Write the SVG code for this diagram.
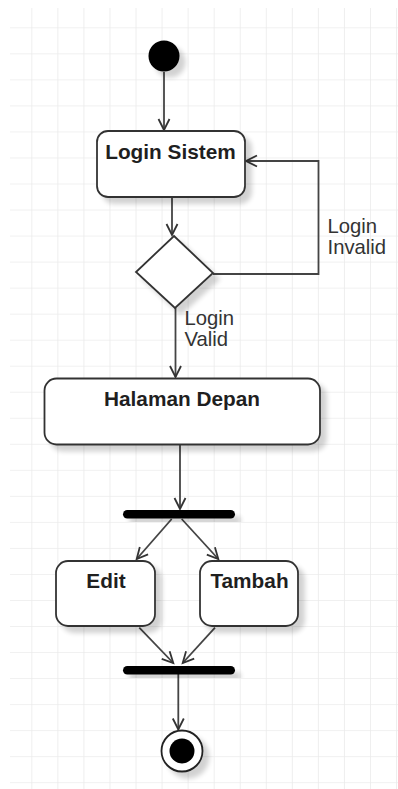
<svg xmlns="http://www.w3.org/2000/svg" width="398" height="789" viewBox="0 0 398 789">
  <defs>
    <pattern id="grid" patternUnits="userSpaceOnUse" x="6.25" y="2.27" width="26.05" height="26.03">
      <path d="M26.05 0 V26.03 M0 26.03 H26.05" stroke="#ebebeb" stroke-width="1.6" fill="none"/>
    </pattern>
    <filter id="shadow" x="-30%" y="-30%" width="170%" height="170%">
      <feGaussianBlur in="SourceAlpha" stdDeviation="2.5"/>
      <feOffset dx="6" dy="6" result="b"/>
      <feComponentTransfer><feFuncA type="linear" slope="0.18"/></feComponentTransfer>
      <feMerge><feMergeNode/><feMergeNode in="SourceGraphic"/></feMerge>
    </filter>
    <marker id="open" markerUnits="userSpaceOnUse" markerWidth="16" markerHeight="16" viewBox="-13 -8 16 16" refX="0" refY="0" orient="auto">
      <path d="M-11,-5.5 L0,0 L-11,5.5" fill="none" stroke="#333" stroke-width="1.8"/>
    </marker>
    <style>
      .box { fill: #ffffff; stroke: #333333; stroke-width: 1.8; }
      .bar { fill: #000000; }
      .title { font-family: "Liberation Sans", Arial, sans-serif; font-weight: bold; font-size: 20.8px; fill: #1f1f1f; text-anchor: middle; }
      .lbl { font-family: "Liberation Sans", Arial, sans-serif; font-size: 20.3px; fill: #333333; }
      .edge { fill: none; stroke: #444444; stroke-width: 1.8; marker-end: url(#open); }
    </style>
  </defs>
  <rect x="0" y="0" width="398" height="789" fill="#ffffff"/>
  <rect x="10" y="8" width="388" height="781" fill="url(#grid)"/>

  <g id="edges">
    <path class="edge" d="M164 72 L164 130"/>
    <path class="edge" d="M172 197 L172 235"/>
    <path class="edge" d="M213 274 L318.5 274 L318.5 161 L246 161"/>
    <path class="edge" d="M175.5 308 L175.5 377"/>
    <path class="edge" d="M180 444 L180 509"/>
    <path class="edge" d="M171.7 519 L136.7 559"/>
    <path class="edge" d="M181.7 519 L218.3 559"/>
    <path class="edge" d="M139.3 627.7 L173.3 663"/>
    <path class="edge" d="M215 627.7 L182.7 663"/>
    <path class="edge" d="M178.3 674 L178.3 729.5"/>
    <text class="lbl" x="327.5" y="233">Login</text>
    <text class="lbl" x="327.5" y="254">Invalid</text>
    <text class="lbl" x="184.5" y="325">Login</text>
    <text class="lbl" x="184.5" y="345.5">Valid</text>
  </g>

  <g id="start" filter="url(#shadow)">
    <circle cx="164" cy="56" r="15.5" fill="#000000"/>
  </g>
  <g id="login-sistem">
    <rect class="box" x="97" y="131" width="148" height="66" rx="11" filter="url(#shadow)"/>
    <text class="title" x="170.5" y="159">Login Sistem</text>
  </g>
  <g id="decision">
    <polygon class="box" points="174,236 213,273 175,308 136,272" filter="url(#shadow)"/>
  </g>
  <g id="halaman-depan">
    <rect class="box" x="44.5" y="378.5" width="275.5" height="66" rx="12" filter="url(#shadow)"/>
    <text class="title" x="182" y="405.5">Halaman Depan</text>
  </g>
  <g id="fork" filter="url(#shadow)">
    <rect class="bar" x="123" y="510" width="112" height="8.5" rx="4.25"/>
  </g>
  <g id="edit">
    <rect class="box" x="56" y="561" width="99" height="65" rx="12" filter="url(#shadow)"/>
    <text class="title" x="106" y="588">Edit</text>
  </g>
  <g id="tambah">
    <rect class="box" x="200" y="561" width="98" height="65" rx="12" filter="url(#shadow)"/>
    <text class="title" x="249.5" y="588">Tambah</text>
  </g>
  <g id="join" filter="url(#shadow)">
    <rect class="bar" x="123" y="666" width="112" height="8.5" rx="4.25"/>
  </g>
  <g id="end">
    <circle cx="182" cy="751" r="20.5" fill="#ffffff" stroke="#222222" stroke-width="1.8" filter="url(#shadow)"/>
    <circle cx="182" cy="751" r="12.5" fill="#000000"/>
  </g>
</svg>
